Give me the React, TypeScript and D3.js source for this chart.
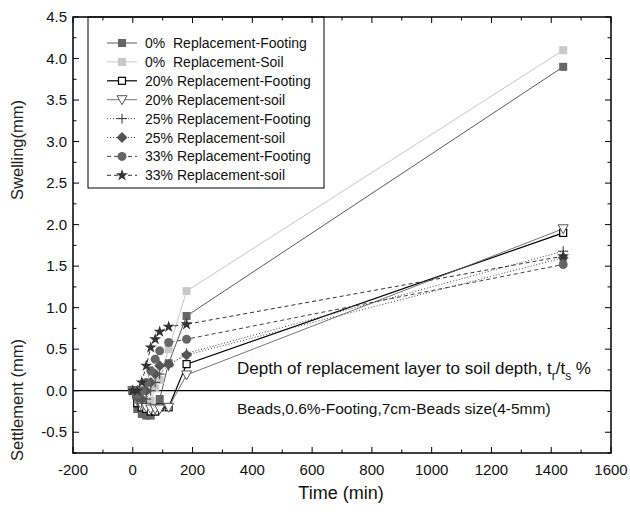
import React from "react";
import * as d3 from "d3";

const times = [0, 15, 30, 45, 60, 75, 90, 120, 180, 1440];
const fOpct = [0, -0.22, -0.28, -0.3, -0.3, -0.25, -0.1, 0.33, 0.9, 3.9];
const sOpct = [0, -0.1, -0.15, -0.15, -0.12, 0.03, 0.13, 0.5, 1.2, 4.1];
const f20 = [0, -0.15, -0.2, -0.22, -0.25, -0.25, -0.2, -0.2, 0.32, 1.9];
const s20 = [0, -0.12, -0.18, -0.2, -0.22, -0.22, -0.22, -0.2, 0.19, 1.95];
const f25 = [0, -0.1, -0.15, -0.1, 0.0, 0.1, 0.2, 0.3, 0.45, 1.68];
const s25 = [0, -0.08, -0.1, 0.0, 0.1, 0.2, 0.3, 0.32, 0.43, 1.6];
const f33 = [0, -0.05, 0.0, 0.1, 0.24, 0.38, 0.48, 0.58, 0.62, 1.52];
const s33 = [0, 0.0, 0.1, 0.3, 0.52, 0.62, 0.71, 0.77, 0.8, 1.62];

const labels = [
  "0%  Replacement-Footing",
  "0%  Replacement-Soil",
  "20% Replacement-Footing",
  "20% Replacement-soil",
  "25% Replacement-Footing",
  "25% Replacement-soil",
  "33% Replacement-Footing",
  "33% Replacement-soil",
];
const xTicks = [-200, 0, 200, 400, 600, 800, 1000, 1200, 1400, 1600];
const yTicks = [-0.5, 0.0, 0.5, 1.0, 1.5, 2.0, 2.5, 3.0, 3.5, 4.0, 4.5];

type Style = { line: string; dash?: string; width: number; marker: string; fill: string; stroke: string };
const styles: Style[] = [
  { line: "#5a5a5a", width: 1, marker: "square", fill: "#666", stroke: "#666" },
  { line: "#c8c8c8", width: 1, marker: "square", fill: "#c8c8c8", stroke: "#c8c8c8" },
  { line: "#000", width: 1.2, marker: "square", fill: "#fff", stroke: "#000" },
  { line: "#666", width: 0.9, marker: "triangle", fill: "#fff", stroke: "#555" },
  { line: "#444", dash: "1,2", width: 1, marker: "plus", fill: "none", stroke: "#333" },
  { line: "#444", dash: "1,2", width: 1, marker: "diamond", fill: "#555", stroke: "#555" },
  { line: "#444", dash: "4,3", width: 1, marker: "circle", fill: "#666", stroke: "#666" },
  { line: "#333", dash: "4,3", width: 1, marker: "star", fill: "#333", stroke: "#333" },
];
const seriesVals = [fOpct, sOpct, f20, s20, f25, s25, f33, s33];

const L = 73, R = 611, T = 17, B = 453;
const x = d3.scaleLinear().domain([-200, 1600]).range([L, R]);
const y = d3.scaleLinear().domain([-0.75, 4.5]).range([B, T]);
const font = "'Liberation Sans', Arial, sans-serif";

function Marker({ kind, cx, cy, st }: { kind: string; cx: number; cy: number; st: Style }) {
  if (kind === "square") {
    const s = st.fill === "#fff" ? 7 : 8;
    return <rect x={cx - s / 2} y={cy - s / 2} width={s} height={s} fill={st.fill} stroke={st.stroke} strokeWidth={st.fill === "#fff" ? 1.2 : 0} />;
  }
  if (kind === "triangle") {
    return <path d={`M${cx - 5},${cy - 4}L${cx + 5},${cy - 4}L${cx},${cy + 5}Z`} fill="#fff" stroke={st.stroke} strokeWidth={1} />;
  }
  if (kind === "plus") {
    return <path d={`M${cx - 5},${cy}H${cx + 5}M${cx},${cy - 5}V${cy + 5}`} stroke={st.stroke} strokeWidth={1} fill="none" />;
  }
  if (kind === "circle") {
    return <circle cx={cx} cy={cy} r={4.5} fill={st.fill} />;
  }
  if (kind === "diamond") {
    const r = 5.5;
    return <path d={`M${cx},${cy - r}L${cx + r},${cy}L${cx},${cy + r}L${cx - r},${cy}Z`} fill={st.fill} />;
  }
  return <path transform={`translate(${cx},${cy})`} d={d3.symbol().type(d3.symbolStar).size(45)() || ""} fill={st.fill} />;
}

export default function App() {
  const line = d3
    .line<number>()
    .x((_, i) => x(times[i]))
    .y((v) => y(v));
  const xMinor = d3.range(-200, 1601, 100);
  const yMinor = d3.range(-0.75, 4.51, 0.25);
  const legendY = (i: number) => 43 + i * 18.9;
  return (
    <svg width={630} height={515} style={{ display: "block", position: "absolute", left: 0, top: 0 }} fontFamily={font}>
      <rect width={630} height={515} fill="#fff" />
      <line x1={L} x2={R} y1={y(0)} y2={y(0)} stroke="#000" strokeWidth={1.2} />
      {seriesVals.map((vals, si) => (
        <path key={"l" + si} d={line(vals) || ""} fill="none" stroke={styles[si].line} strokeWidth={styles[si].width} strokeDasharray={styles[si].dash} />
      ))}
      {seriesVals.map((vals, si) => (
        <g key={"m" + si}>
          {vals.map((v, i) => (
            <Marker key={i} kind={styles[si].marker} cx={x(times[i])} cy={y(v)} st={styles[si]} />
          ))}
        </g>
      ))}
      {xMinor.map((t) => {
        const major = t % 200 === 0;
        const len = major ? 6 : 3.5;
        return (
          <g key={"xt" + t}>
            <line x1={x(t)} x2={x(t)} y1={B} y2={B - len} stroke="#000" strokeWidth={1} />
            <line x1={x(t)} x2={x(t)} y1={T} y2={T + len} stroke="#000" strokeWidth={1} />
          </g>
        );
      })}
      {yMinor.map((v) => {
        const major = Math.abs(v * 2 - Math.round(v * 2)) < 1e-6;
        const len = major ? 6 : 3.5;
        return (
          <g key={"yt" + v}>
            <line x1={L} x2={L + len} y1={y(v)} y2={y(v)} stroke="#000" strokeWidth={1} />
            <line x1={R} x2={R - len} y1={y(v)} y2={y(v)} stroke="#000" strokeWidth={1} />
          </g>
        );
      })}
      <rect x={L} y={T} width={R - L} height={B - T} fill="none" stroke="#000" strokeWidth={1.5} />
      {xTicks.map((t) => (
        <text key={"xl" + t} x={x(t)} y={475} fontSize={15} textAnchor="middle" fill="#111">
          {t}
        </text>
      ))}
      {yTicks.map((v) => (
        <text key={"yl" + v} x={L - 6} y={y(v) + 5} fontSize={15} textAnchor="end" fill="#111">
          {v.toFixed(1)}
        </text>
      ))}
      <text x={341} y={499} fontSize={18} textAnchor="middle" fill="#111">Time (min)</text>
      <text transform="translate(23,150) rotate(-90)" fontSize={16.5} textAnchor="middle" fill="#222">Swelling(mm)</text>
      <text transform="translate(23,400) rotate(-90)" fontSize={16.5} textAnchor="middle" fill="#222">Settlement (mm)</text>
      <text x={237} y={374} fontSize={17} fill="#111">
        Depth of replacement layer to soil depth, t
        <tspan fontSize={12} dy={6}>r</tspan>
        <tspan dy={-6}>/t</tspan>
        <tspan fontSize={12} dy={6}>s</tspan>
        <tspan dy={-6}> %</tspan>
      </text>
      <text x={237} y={414} fontSize={15.5} fill="#111">Beads,0.6%-Footing,7cm-Beads size(4-5mm)</text>
      <rect x={88} y={T} width={236} height={171} fill="none" stroke="#000" strokeWidth={1} />
      {labels.map((lab, i) => {
        const st = styles[i];
        const ly = legendY(i);
        return (
          <g key={"lg" + i}>
            <line x1={107} x2={137} y1={ly} y2={ly} stroke={st.line} strokeWidth={st.width} strokeDasharray={st.dash} />
            <Marker kind={st.marker} cx={122} cy={ly} st={st} />
            <text x={145} y={ly + 5} fontSize={14} fill="#111" style={{ whiteSpace: "pre" }}>
              {lab}
            </text>
          </g>
        );
      })}
    </svg>
  );
}
